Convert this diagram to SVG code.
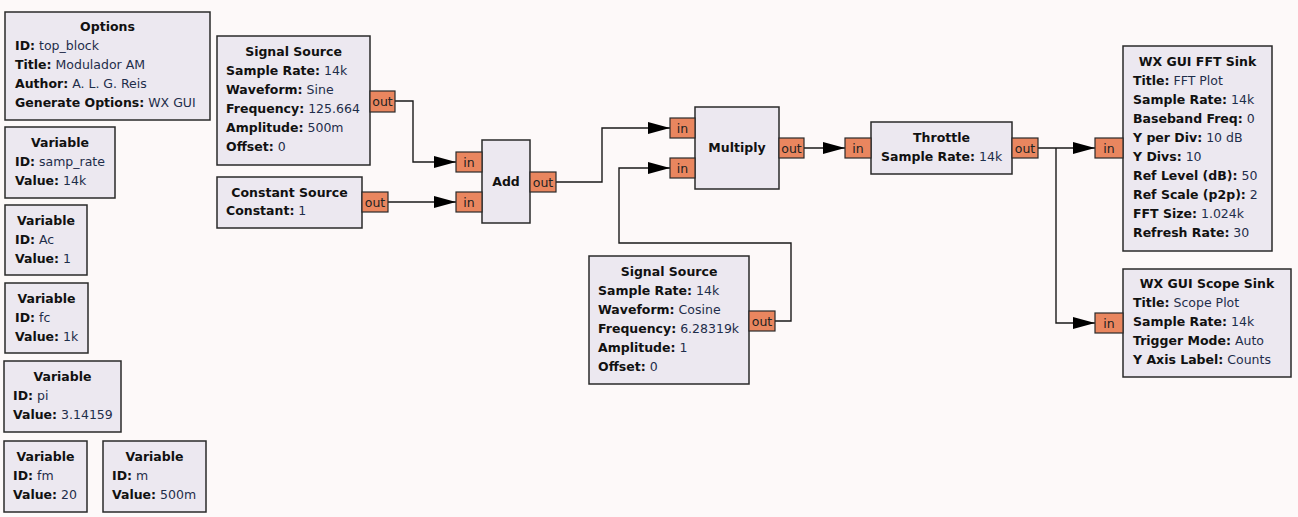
<svg xmlns="http://www.w3.org/2000/svg" width="1298" height="517" viewBox="0 0 1298 517">
<style>
text{font-family:"DejaVu Sans","Noto Sans",sans-serif;font-size:12.5px;fill:#1e2d4a}
.b{font-weight:bold;fill:#111}
.t{font-weight:bold;fill:#111;text-anchor:middle}
.blk{fill:#ece8f0;stroke:#2a2a2a;stroke-width:1.5}
.port{fill:#e9865f;stroke:#2a2a2a;stroke-width:1.2}
.pt{fill:#222;text-anchor:middle}
.wire{fill:none;stroke:#1a1a1a;stroke-width:1.4}
</style>
<defs>
<marker id="arr" markerUnits="userSpaceOnUse" markerWidth="24" markerHeight="14" refX="22" refY="6" orient="auto">
<path d="M0,0 L22,6 L0,12 Z" fill="#000"/>
</marker>
</defs>
<rect width="1298" height="517" fill="#fdf9f9"/>

<g id="connectors">
<path class="wire" d="M395,101 H413 V162 H456" marker-end="url(#arr)"/>
<path class="wire" d="M388,202 H456" marker-end="url(#arr)"/>
<path class="wire" d="M556,182 H602 V128 H670" marker-end="url(#arr)"/>
<path class="wire" d="M775,321 H791 V243 H619 V168 H670" marker-end="url(#arr)"/>
<path class="wire" d="M804,148 H845" marker-end="url(#arr)"/>
<path class="wire" d="M1038,148 H1095" marker-end="url(#arr)"/>
<path class="wire" d="M1056,148 V323 H1095" marker-end="url(#arr)"/>
</g>

<g id="options">
<rect class="blk" x="5" y="12" width="205" height="108"/>
<text class="t" x="107.5" y="31">Options</text>
<text x="15" y="50"><tspan class="b">ID:</tspan> top_block</text>
<text x="15" y="69"><tspan class="b">Title:</tspan> Modulador AM</text>
<text x="15" y="88"><tspan class="b">Author:</tspan> A. L. G. Reis</text>
<text x="15" y="107"><tspan class="b">Generate Options:</tspan> WX GUI</text>
</g>

<g id="var_samp_rate">
<rect class="blk" x="5" y="127" width="110" height="71"/>
<text class="t" x="60" y="147">Variable</text>
<text x="15" y="166"><tspan class="b">ID:</tspan> samp_rate</text>
<text x="15" y="185"><tspan class="b">Value:</tspan> 14k</text>
</g>

<g id="var_ac">
<rect class="blk" x="5" y="205" width="82" height="70"/>
<text class="t" x="46" y="225">Variable</text>
<text x="15" y="244"><tspan class="b">ID:</tspan> Ac</text>
<text x="15" y="263"><tspan class="b">Value:</tspan> 1</text>
</g>

<g id="var_fc">
<rect class="blk" x="5" y="283" width="83" height="70"/>
<text class="t" x="46.5" y="303">Variable</text>
<text x="15" y="322"><tspan class="b">ID:</tspan> fc</text>
<text x="15" y="341"><tspan class="b">Value:</tspan> 1k</text>
</g>

<g id="var_pi">
<rect class="blk" x="4" y="361" width="117" height="71"/>
<text class="t" x="62.5" y="381">Variable</text>
<text x="13" y="400"><tspan class="b">ID:</tspan> pi</text>
<text x="13" y="419"><tspan class="b">Value:</tspan> 3.14159</text>
</g>

<g id="var_fm">
<rect class="blk" x="4" y="441" width="83" height="71"/>
<text class="t" x="45.5" y="461">Variable</text>
<text x="13" y="480"><tspan class="b">ID:</tspan> fm</text>
<text x="13" y="499"><tspan class="b">Value:</tspan> 20</text>
</g>

<g id="var_m">
<rect class="blk" x="103" y="441" width="103" height="71"/>
<text class="t" x="154.5" y="461">Variable</text>
<text x="112" y="480"><tspan class="b">ID:</tspan> m</text>
<text x="112" y="499"><tspan class="b">Value:</tspan> 500m</text>
</g>

<g id="signal_source_1">
<rect class="blk" x="217" y="36" width="153" height="129"/>
<text class="t" x="293.5" y="56">Signal Source</text>
<text x="226" y="75"><tspan class="b">Sample Rate:</tspan> 14k</text>
<text x="226" y="94"><tspan class="b">Waveform:</tspan> Sine</text>
<text x="226" y="113"><tspan class="b">Frequency:</tspan> 125.664</text>
<text x="226" y="132"><tspan class="b">Amplitude:</tspan> 500m</text>
<text x="226" y="151"><tspan class="b">Offset:</tspan> 0</text>
<rect class="port" x="370" y="91" width="25" height="21"/>
<text class="pt" x="382.5" y="106">out</text>
</g>

<g id="constant_source">
<rect class="blk" x="217" y="177" width="145" height="51"/>
<text class="t" x="289.5" y="197">Constant Source</text>
<text x="226" y="215"><tspan class="b">Constant:</tspan> 1</text>
<rect class="port" x="362" y="192" width="26" height="20"/>
<text class="pt" x="375" y="207">out</text>
</g>

<g id="add">
<rect class="blk" x="482" y="140" width="48" height="83"/>
<text class="t" x="506" y="186">Add</text>
<rect class="port" x="456" y="152" width="26" height="20"/>
<text class="pt" x="469" y="167">in</text>
<rect class="port" x="456" y="192" width="26" height="20"/>
<text class="pt" x="469" y="207">in</text>
<rect class="port" x="530" y="172" width="26" height="20"/>
<text class="pt" x="543" y="187">out</text>
</g>

<g id="multiply">
<rect class="blk" x="695" y="107" width="84" height="82"/>
<text class="t" x="737" y="152">Multiply</text>
<rect class="port" x="670" y="118" width="25" height="20"/>
<text class="pt" x="682.5" y="133">in</text>
<rect class="port" x="670" y="158" width="25" height="20"/>
<text class="pt" x="682.5" y="173">in</text>
<rect class="port" x="779" y="138" width="25" height="20"/>
<text class="pt" x="791.5" y="153">out</text>
</g>

<g id="throttle">
<rect class="blk" x="871" y="122" width="141" height="52"/>
<text class="t" x="941.5" y="142">Throttle</text>
<text x="881" y="161"><tspan class="b">Sample Rate:</tspan> 14k</text>
<rect class="port" x="845" y="138" width="26" height="20"/>
<text class="pt" x="858" y="153">in</text>
<rect class="port" x="1012" y="138" width="26" height="20"/>
<text class="pt" x="1025" y="153">out</text>
</g>

<g id="fft_sink">
<rect class="blk" x="1123" y="46" width="149" height="205"/>
<text class="t" x="1197.5" y="66">WX GUI FFT Sink</text>
<text x="1133" y="85"><tspan class="b">Title:</tspan> FFT Plot</text>
<text x="1133" y="104"><tspan class="b">Sample Rate:</tspan> 14k</text>
<text x="1133" y="123"><tspan class="b">Baseband Freq:</tspan> 0</text>
<text x="1133" y="142"><tspan class="b">Y per Div:</tspan> 10 dB</text>
<text x="1133" y="161"><tspan class="b">Y Divs:</tspan> 10</text>
<text x="1133" y="180"><tspan class="b">Ref Level (dB):</tspan> 50</text>
<text x="1133" y="199"><tspan class="b">Ref Scale (p2p):</tspan> 2</text>
<text x="1133" y="218"><tspan class="b">FFT Size:</tspan> 1.024k</text>
<text x="1133" y="237"><tspan class="b">Refresh Rate:</tspan> 30</text>
<rect class="port" x="1095" y="138" width="28" height="20"/>
<text class="pt" x="1109" y="153">in</text>
</g>

<g id="scope_sink">
<rect class="blk" x="1123" y="269" width="168" height="108"/>
<text class="t" x="1207" y="288">WX GUI Scope Sink</text>
<text x="1133" y="307"><tspan class="b">Title:</tspan> Scope Plot</text>
<text x="1133" y="326"><tspan class="b">Sample Rate:</tspan> 14k</text>
<text x="1133" y="345"><tspan class="b">Trigger Mode:</tspan> Auto</text>
<text x="1133" y="364"><tspan class="b">Y Axis Label:</tspan> Counts</text>
<rect class="port" x="1095" y="313" width="28" height="20"/>
<text class="pt" x="1109" y="328">in</text>
</g>

<g id="signal_source_2">
<rect class="blk" x="589" y="256" width="160" height="128"/>
<text class="t" x="669" y="276">Signal Source</text>
<text x="598" y="295"><tspan class="b">Sample Rate:</tspan> 14k</text>
<text x="598" y="314"><tspan class="b">Waveform:</tspan> Cosine</text>
<text x="598" y="333"><tspan class="b">Frequency:</tspan> 6.28319k</text>
<text x="598" y="352"><tspan class="b">Amplitude:</tspan> 1</text>
<text x="598" y="371"><tspan class="b">Offset:</tspan> 0</text>
<rect class="port" x="749" y="311" width="26" height="20"/>
<text class="pt" x="762" y="326">out</text>
</g>
</svg>
